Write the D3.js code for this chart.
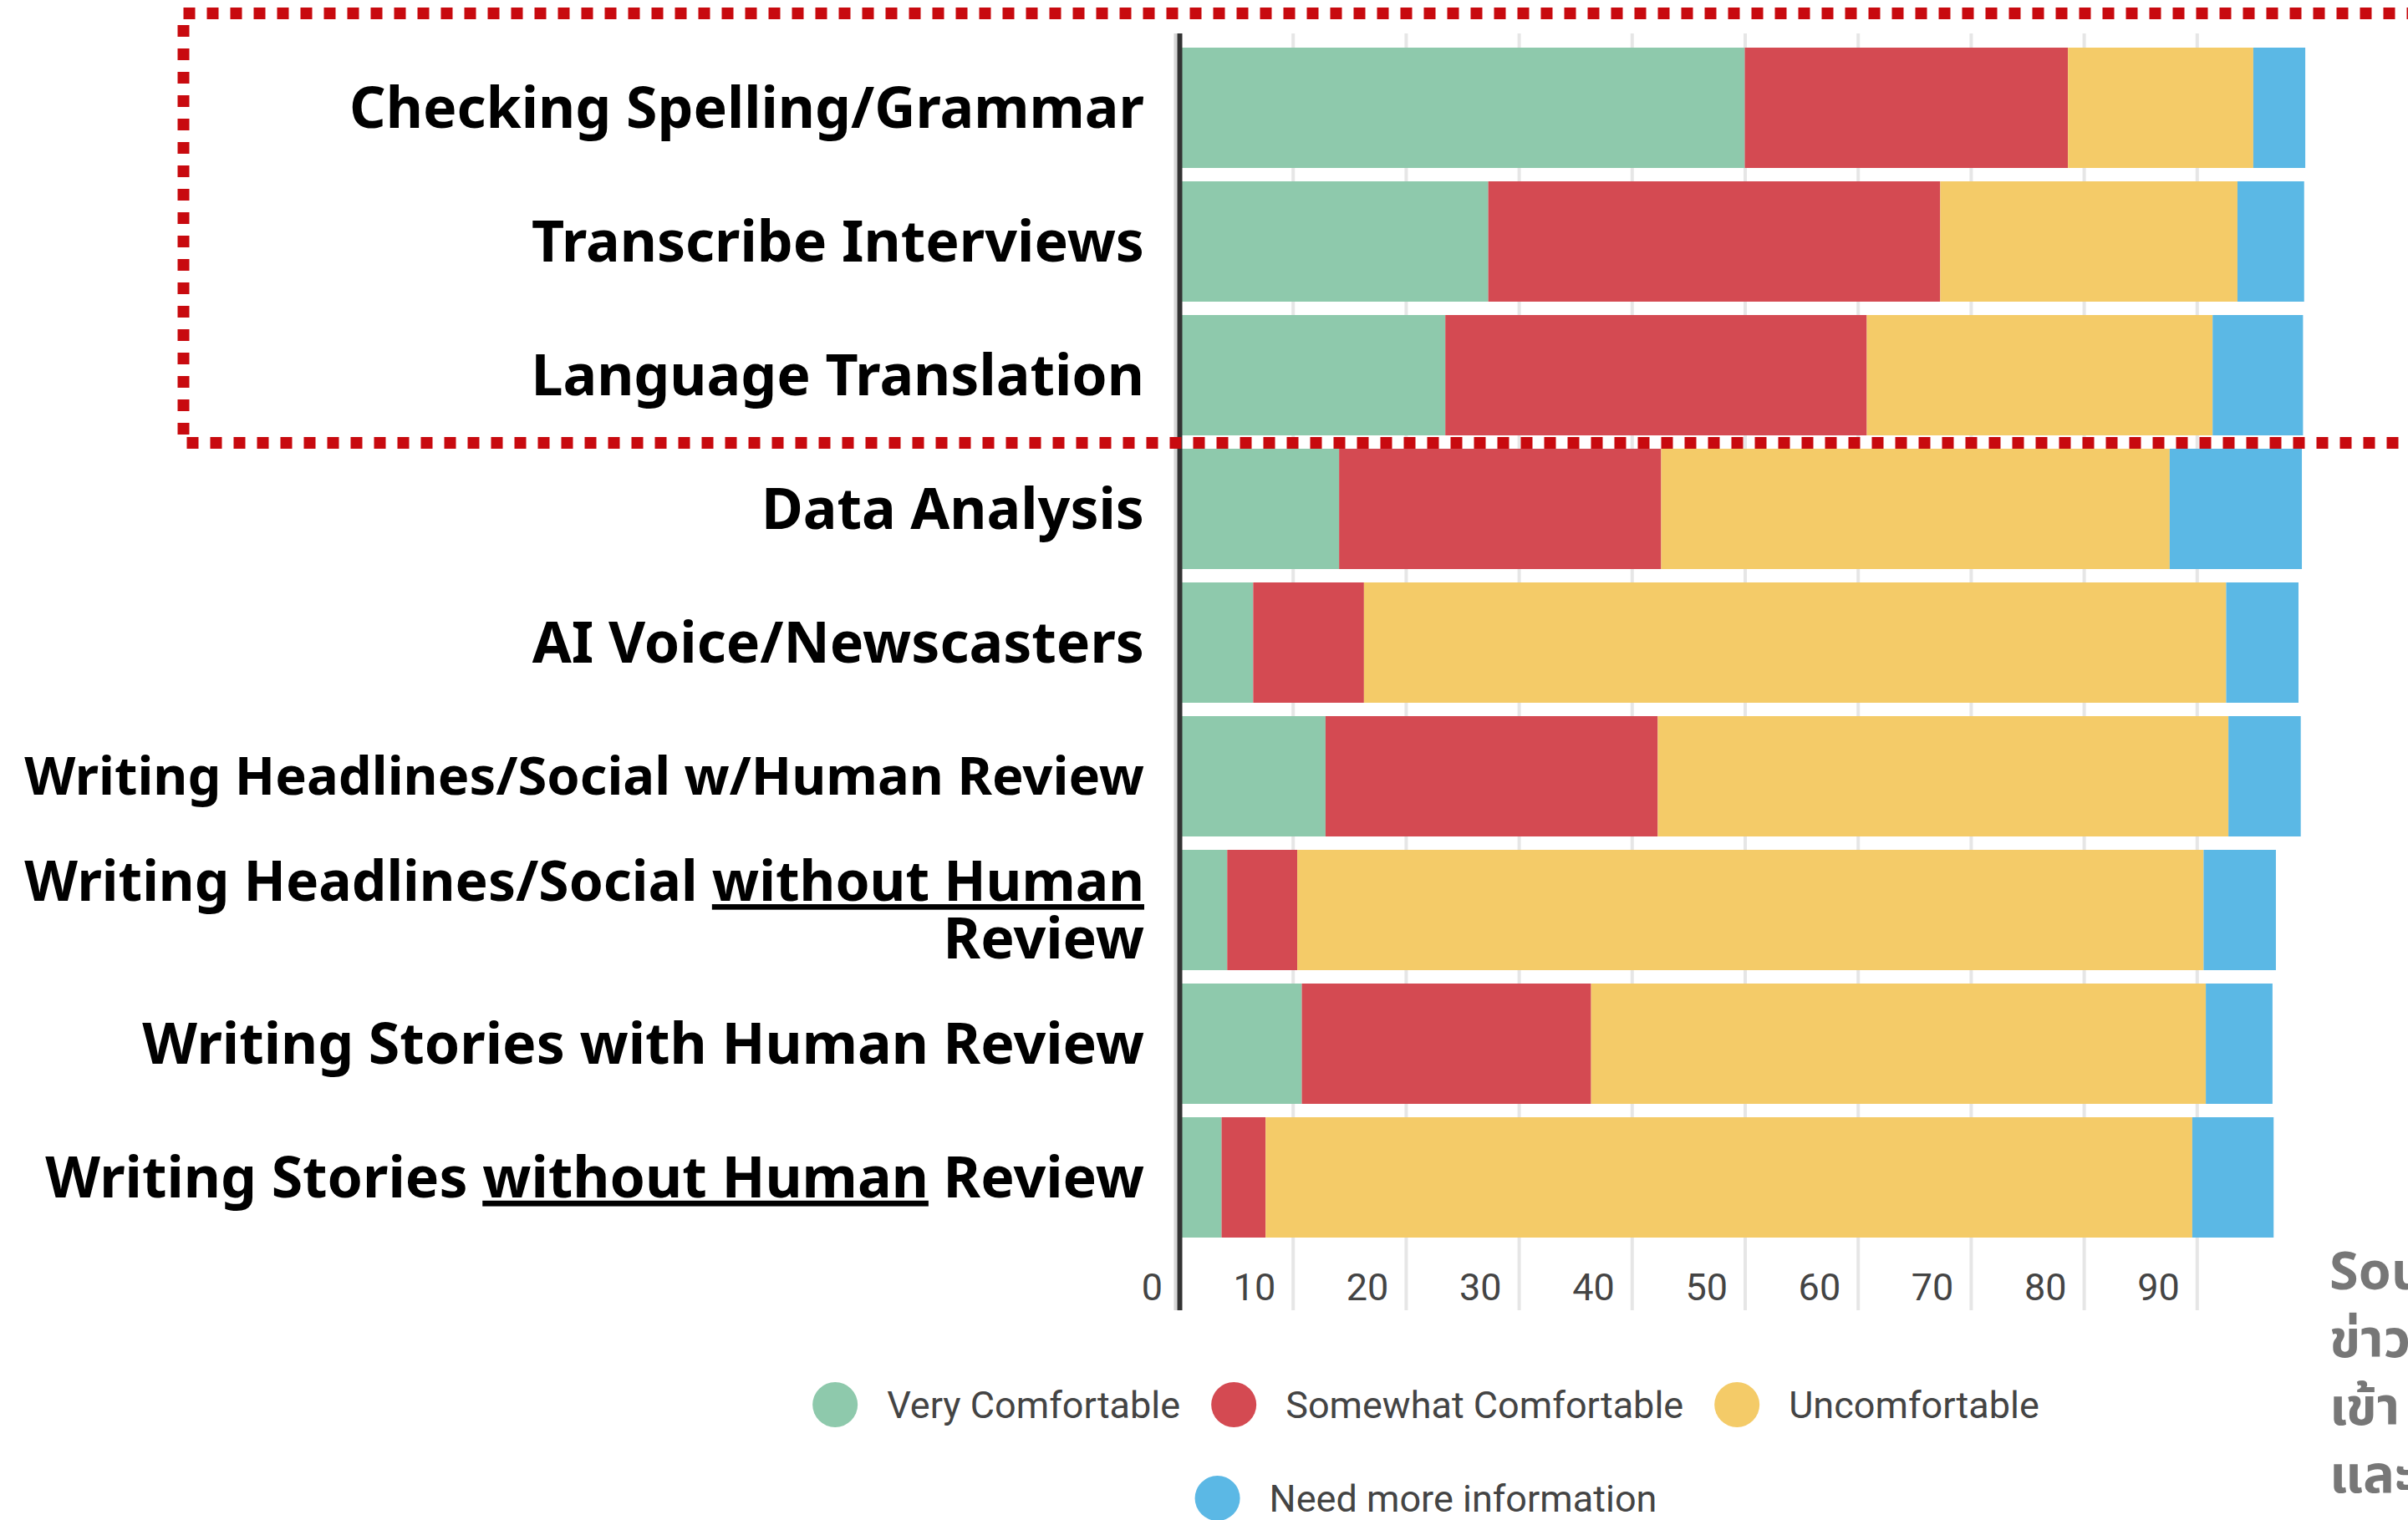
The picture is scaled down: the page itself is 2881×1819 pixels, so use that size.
<!DOCTYPE html>
<html>
<head>
<meta charset="utf-8">
<script src="https://cdn.jsdelivr.net/npm/d3@7"></script>
<style>
  body { margin: 0; background: #fff; }
  svg { display: block; }
  .cat { font-family: "Noto Sans", sans-serif; font-weight: 700; fill: #000; }
  .tick text, .legend text { font-family: Roboto, sans-serif; fill: #444; }
  .source { font-family: "Noto Sans Thai", "Noto Sans", sans-serif; font-weight: 700; fill: #777; }
</style>
</head>
<body>
<div id="chart"></div>
<script>
// categories, top to bottom ('_' marks underlined words, '|' a line break)
var categories = [
    "Checking Spelling/Grammar",
    "Transcribe Interviews",
    "Language Translation",
    "Data Analysis",
    "AI Voice/Newscasters",
    "Writing Headlines/Social w/Human Review",
    "Writing Headlines/Social _without Human_|Review",
    "Writing Stories with Human Review",
    "Writing Stories _without Human_ Review"
];

var series = ["Very Comfortable", "Somewhat Comfortable", "Uncomfortable", "Need more information"];

// percentages, one value per category
var veryComfortable     = [50.0, 27.3, 23.5, 14.1, 6.5, 12.9, 4.2, 10.8, 3.7];
var somewhatComfortable = [28.6, 40.0, 37.3, 28.5, 9.8, 29.4, 6.2, 25.6, 3.9];
var uncomfortable       = [16.4, 26.3, 30.6, 45.0, 76.3, 50.5, 80.2, 54.4, 82.0];
var needMoreInfo        = [4.6, 5.9, 8.0, 11.7, 6.4, 6.4, 6.4, 5.9, 7.2];

var tickValues = [0, 10, 20, 30, 40, 50, 60, 70, 80, 90];

var sourceLines = ["Source:", "ข่าว", "เข้า", "และ"];

var colors = ["#8ec9ac", "#d44a52", "#f4cb68", "#5bb8e5"];

var width = 2881,
    height = 1819;

var rows = categories.map(function (c, i) {
    return {
        category: c,
        "Very Comfortable": veryComfortable[i],
        "Somewhat Comfortable": somewhatComfortable[i],
        "Uncomfortable": uncomfortable[i],
        "Need more information": needMoreInfo[i]
    };
});

var svg = d3.select("#chart").append("svg")
    .attr("width", width)
    .attr("height", height);

var x = d3.scaleLinear().domain([0, 100]).range([1411.5, 2763.5]);

var y = d3.scaleBand()
    .domain(categories)
    .range([49, 1489])
    .paddingInner(0.1)
    .paddingOuter(0.05);

var color = d3.scaleOrdinal().domain(series).range(colors);

var gridTop = 40,
    gridBottom = 1568;

// axis with gridlines
var axis = svg.append("g")
    .attr("transform", "translate(0," + gridBottom + ")")
    .call(d3.axisBottom(x)
        .tickValues(tickValues)
        .tickSize(-(gridBottom - gridTop))
        .tickFormat(d3.format("d")));

axis.select(".domain").remove();
axis.selectAll(".tick line")
    .attr("stroke", "#e6e6e6")
    .attr("stroke-width", 4);
axis.selectAll(".tick text")
    .attr("y", -28)
    .attr("dy", "0.35em")
    .attr("x", -21)
    .attr("text-anchor", "end")
    .style("font-size", "45px");

// stacked bars
var stack = d3.stack().keys(series);

svg.append("g")
    .selectAll("g")
    .data(stack(rows))
    .enter().append("g")
    .attr("fill", function (d) { return color(d.key); })
    .selectAll("rect")
    .data(function (d) { return d; })
    .enter().append("rect")
    .attr("x", function (d) { return x(d[0]); })
    .attr("width", function (d) { return x(d[1]) - x(d[0]); })
    .attr("y", function (d) { return y(d.data.category); })
    .attr("height", y.bandwidth());

// zero line
svg.append("line")
    .attr("x1", x(0) - 5).attr("x2", x(0) - 5)
    .attr("y1", gridTop).attr("y2", gridBottom)
    .attr("stroke", "#d6d6d6")
    .attr("stroke-width", 4);
svg.append("line")
    .attr("x1", x(0)).attr("x2", x(0))
    .attr("y1", gridTop).attr("y2", gridBottom)
    .attr("stroke", "#333")
    .attr("stroke-width", 6);

// category labels
var labelSize = 68,
    labelRight = 1369,
    maxLabelWidth = 1340,
    lineGap = 68;

categories.forEach(function (c) {
    var lines = c.split("|");
    var cy = y(c) + y.bandwidth() / 2;
    lines.forEach(function (line, li) {
        var t = svg.append("text")
            .attr("class", "cat")
            .attr("x", labelRight)
            .attr("y", cy + (li - (lines.length - 1) / 2) * lineGap)
            .attr("dy", "0.35em")
            .attr("text-anchor", "end")
            .style("font-size", labelSize + "px");
        line.split("_").forEach(function (part, pi) {
            if (!part) return;
            t.append("tspan")
                .text(part)
                .style("text-decoration", pi % 2 === 1 ? "underline" : "none");
        });
        // keep long labels inside the page
        var w = t.node().getComputedTextLength();
        if (w > maxLabelWidth) {
            t.style("font-size", (labelSize * maxLabelWidth / w) + "px");
        }
    });
});

// legend
var legendRows = [series.slice(0, 3), series.slice(3)];
var legendY = [1681, 1793],
    legendCenter = 1706;

legendRows.forEach(function (keys, ri) {
    var g = svg.append("g").attr("class", "legend");
    var cx = 0;
    keys.forEach(function (k, i) {
        g.append("circle")
            .attr("cx", cx)
            .attr("cy", legendY[ri])
            .attr("r", 27)
            .attr("fill", color(k));
        var t = g.append("text")
            .attr("x", cx + 62)
            .attr("y", legendY[ri])
            .attr("dy", "0.35em")
            .style("font-size", "45px")
            .text(k);
        cx = cx + 62 + t.node().getComputedTextLength() + 64;
    });
    var span = cx - 64 + 27;
    g.attr("transform", "translate(" + (legendCenter - span / 2 + 27) + ",0)");
});

// source note, cut off by the page edge
svg.append("g")
    .selectAll("text")
    .data(sourceLines)
    .enter().append("text")
    .attr("class", "source")
    .attr("x", 2787)
    .attr("y", function (d, i) { return 1521 + i * 81; })
    .attr("dy", "0.35em")
    .style("font-size", "63px")
    .text(function (d) { return d; });

// dotted highlight box
svg.append("rect")
    .attr("x", 219.5)
    .attr("y", 16)
    .attr("width", 3000)
    .attr("height", 514)
    .attr("fill", "none")
    .attr("stroke", "#c80a0f")
    .attr("stroke-width", 14)
    .attr("stroke-dasharray", "14 14");
</script>
</body>
</html>
